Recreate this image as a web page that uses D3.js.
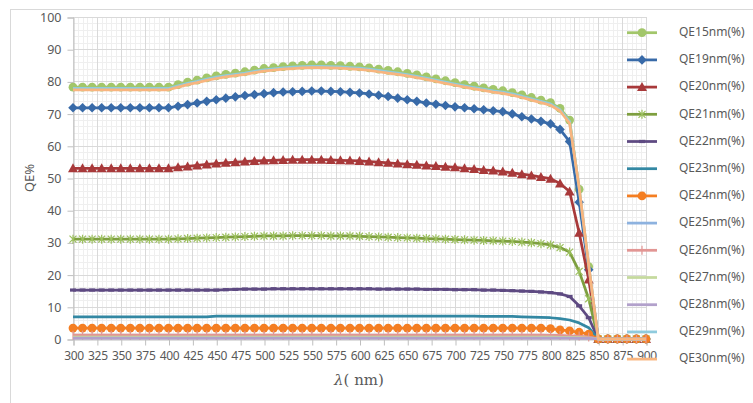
<!DOCTYPE html>
<html><head><meta charset="utf-8">
<script src="https://cdn.jsdelivr.net/npm/d3@7"></script>
<style>body{margin:0;background:#fff}svg{display:block}</style>
</head><body>
<svg id="c" width="753" height="403"></svg>
<script>
const wavelengths=[300,310,320,330,340,350,360,370,380,390,400,410,420,430,440,450,460,470,480,490,500,510,520,530,540,550,560,570,580,590,600,610,620,630,640,650,660,670,680,690,700,710,720,730,740,750,760,770,780,790,800,810,820,830,840,850,860,870,880,890,900];
const xTicks=[300,325,350,375,400,425,450,475,500,525,550,575,600,625,650,675,700,725,750,775,800,825,850,875,900];
const yTicks=[0,10,20,30,40,50,60,70,80,90,100];
const seriesNames=["QE15nm(%)","QE19nm(%)","QE20nm(%)","QE21nm(%)","QE22nm(%)","QE23nm(%)","QE24nm(%)","QE25nm(%)","QE26nm(%)","QE27nm(%)","QE28nm(%)","QE29nm(%)","QE30nm(%)"];
const qe15=[78.2,78.2,78.2,78.2,78.2,78.2,78.2,78.2,78.2,78.2,78.2,
79.0,79.8,80.4,81.1,81.7,82.2,82.6,83.0,83.5,84.0,
84.3,84.6,84.8,85.0,85.1,85.1,85.0,84.9,84.7,84.5,
84.2,83.8,83.4,83.0,82.5,82.0,81.4,80.8,80.2,79.6,
79.0,78.5,78.0,77.5,77.1,76.5,75.8,75.0,74.2,73.4,
71.6,68.0,46.5,22.5,0,0,0,0,0,0];
const qe19=[71.8,71.8,71.8,71.8,71.8,71.8,71.8,71.8,71.8,71.8,71.8,
72.3,72.8,73.3,73.8,74.3,74.8,75.2,75.6,75.9,76.2,
76.5,76.7,76.8,76.9,77.0,77.0,76.9,76.8,76.6,76.4,
76.1,75.7,75.3,74.8,74.3,73.8,73.3,72.9,72.5,72.1,
71.8,71.5,71.2,70.9,70.6,69.9,69.0,68.3,67.6,66.8,
65.1,61.3,42.5,21.5,0,0,0,0,0,0];
const qe20=[53.0,53.0,53.0,53.0,53.0,53.0,53.0,53.0,53.0,53.0,53.0,
53.3,53.6,53.9,54.2,54.5,54.7,54.9,55.1,55.3,55.4,
55.5,55.6,55.7,55.7,55.7,55.7,55.6,55.5,55.4,55.3,
55.1,54.9,54.7,54.5,54.3,54.1,53.9,53.7,53.5,53.3,
53.0,52.8,52.5,52.3,52.0,51.6,51.2,50.8,50.3,49.8,
48.3,45.8,33.0,18.5,0,0,0,0,0,0];
const qe21=[31.0,31.0,31.0,31.0,31.0,31.0,31.0,31.0,31.0,31.0,31.0,
31.1,31.2,31.3,31.4,31.5,31.6,31.7,31.8,31.9,32.0,
32.0,32.0,32.1,32.1,32.1,32.1,32.0,32.0,32.0,31.9,
31.8,31.7,31.6,31.5,31.4,31.3,31.2,31.1,31.0,30.9,
30.8,30.7,30.6,30.5,30.4,30.3,30.1,29.9,29.6,29.2,
28.4,27.0,21.0,12.5,0,0,0,0,0,0];
const qe22=[15.2,15.2,15.2,15.2,15.2,15.2,15.2,15.2,15.2,15.2,15.2,
15.2,15.2,15.2,15.2,15.2,15.3,15.4,15.5,15.5,15.5,
15.6,15.6,15.6,15.6,15.6,15.6,15.6,15.6,15.6,15.6,
15.6,15.5,15.5,15.5,15.5,15.5,15.4,15.4,15.4,15.3,
15.3,15.3,15.2,15.2,15.1,15.0,14.9,14.8,14.6,14.4,
14.0,13.2,10.3,6.6,0,0,0,0,0,0];
const qe23=[6.9,6.9,6.9,6.9,6.9,6.9,6.9,6.9,6.9,6.9,6.9,
6.9,6.9,6.9,6.9,7.1,7.1,7.1,7.1,7.1,7.1,
7.1,7.1,7.1,7.1,7.1,7.1,7.1,7.1,7.1,7.1,
7.1,7.1,7.1,7.1,7.1,7.1,7.1,7.1,7.1,7.1,
7.1,7.1,7.0,7.0,7.0,7.0,6.9,6.8,6.7,6.6,
6.3,5.9,5.0,3.5,0,0,0,0,0,0];
const qe24=[3.4,3.4,3.4,3.4,3.4,3.4,3.4,3.4,3.4,3.4,3.4,
3.4,3.4,3.4,3.4,3.4,3.4,3.4,3.4,3.4,3.4,
3.4,3.4,3.4,3.4,3.4,3.4,3.4,3.4,3.4,3.4,
3.4,3.4,3.4,3.4,3.4,3.4,3.4,3.4,3.4,3.4,
3.4,3.4,3.4,3.4,3.4,3.4,3.4,3.4,3.4,3.2,
2.8,2.5,2.1,1.5,0,0,0,0,0,0];
const qe25=[0.9,0.9,0.9,0.9,0.9,0.9,0.9,0.9,0.9,0.9,0.9,
0.9,0.9,0.9,0.9,0.9,0.9,0.9,0.9,0.9,0.9,
0.9,0.9,0.9,0.9,0.9,0.9,0.9,0.9,0.9,0.9,
0.9,0.9,0.9,0.9,0.9,0.9,0.9,0.9,0.9,0.9,
0.9,0.9,0.9,0.9,0.9,0.9,0.9,0.9,0.9,0.9,
0.8,0.8,0.7,0.5,0,0,0,0,0,0];
const qe26=[1.2,1.2,1.2,1.2,1.2,1.2,1.2,1.2,1.2,1.2,1.2,
1.2,1.2,1.2,1.2,1.2,1.2,1.2,1.2,1.2,1.2,
1.2,1.2,1.2,1.2,1.2,1.2,1.2,1.2,1.2,1.2,
1.2,1.2,1.2,1.2,1.2,1.2,1.2,1.2,1.2,1.2,
1.2,1.2,1.2,1.2,1.2,1.2,1.2,1.2,1.2,1.1,
1.1,1.0,0.9,0.6,0,0,0,0,0,0];
const qe27=[0.6,0.6,0.6,0.6,0.6,0.6,0.6,0.6,0.6,0.6,0.6,
0.6,0.6,0.6,0.6,0.6,0.6,0.6,0.6,0.6,0.6,
0.6,0.6,0.6,0.6,0.6,0.6,0.6,0.6,0.6,0.6,
0.6,0.6,0.6,0.6,0.6,0.6,0.6,0.6,0.6,0.6,
0.6,0.6,0.6,0.6,0.6,0.6,0.6,0.6,0.6,0.6,
0.5,0.5,0.4,0.3,0,0,0,0,0,0];
const qe28=[0.3,0.3,0.3,0.3,0.3,0.3,0.3,0.3,0.3,0.3,0.3,
0.3,0.3,0.3,0.3,0.3,0.3,0.3,0.3,0.3,0.3,
0.3,0.3,0.3,0.3,0.3,0.3,0.3,0.3,0.3,0.3,
0.3,0.3,0.3,0.3,0.3,0.3,0.3,0.3,0.3,0.3,
0.3,0.3,0.3,0.3,0.3,0.3,0.3,0.3,0.3,0.3,
0.3,0.3,0.2,0.2,0,0,0,0,0,0];
const qe29=[77.8,77.8,77.8,77.8,77.8,77.8,77.8,77.8,77.8,77.8,77.8,
78.6,79.4,80.0,80.7,81.3,81.8,82.2,82.6,83.1,83.6,
83.9,84.2,84.4,84.6,84.7,84.7,84.6,84.5,84.3,84.1,
83.8,83.4,83.0,82.6,82.1,81.6,81.0,80.4,79.8,79.2,
78.6,78.1,77.6,77.1,76.7,76.1,75.4,74.6,73.8,73.0,
71.2,67.5,46.8,22.8,0,0,0,0,0,0];
const qe30=[77.4,77.4,77.4,77.4,77.4,77.4,77.4,77.4,77.4,77.4,77.4,
78.2,79.0,79.6,80.3,80.9,81.4,81.8,82.2,82.7,83.2,
83.5,83.8,84.0,84.2,84.3,84.3,84.2,84.1,83.9,83.7,
83.4,83.0,82.6,82.2,81.7,81.2,80.6,80.0,79.4,78.8,
78.2,77.7,77.2,76.7,76.3,75.7,75.0,74.2,73.4,72.6,
70.8,67.0,47.0,23.0,0,0,0,0,0,0];

const seriesValues=[qe15,qe19,qe20,qe21,qe22,qe23,qe24,qe25,qe26,qe27,qe28,qe29,qe30];
const styles=[
 {c:"#A2C66A",m:"circle"},
 {c:"#386AA8",m:"diamond"},
 {c:"#A8393A",m:"triangle"},
 {c:"#7E9F3F",m:"asterisk",mc:"#9CC05E"},
 {c:"#5E4A82",m:"dash"},
 {c:"#3388A3",m:"none"},
 {c:"#F47E22",m:"circle"},
 {c:"#8DB2DF",m:"none"},
 {c:"#E29694",m:"plus"},
 {c:"#C5DA9E",m:"none"},
 {c:"#B2A1CB",m:"none"},
 {c:"#8FCBDD",m:"none"},
 {c:"#F8B57F",m:"none"}
];

const svg=d3.select("#c");
const font="'Noto Sans', 'Open Sans', sans-serif";
const x=d3.scaleLinear().domain([300,900]).range([73,646]);
const y=d3.scaleLinear().domain([0,100]).range([339,17]);

// chart border
svg.append("rect").attr("x",10.5).attr("y",9.5).attr("width",800).attr("height",420)
  .attr("fill","none").attr("stroke","#D9D9D9");

// minor gridlines
const g=svg.append("g");
const minorX=d3.range(300,901,5), minorY=d3.range(0,101,2);
g.selectAll(".mx").data(minorX).join("line")
 .attr("x1",d=>Math.round(x(d))+0.5).attr("x2",d=>Math.round(x(d))+0.5)
 .attr("y1",y(100)).attr("y2",y(0)).attr("stroke","#EFEFEF");
g.selectAll(".my").data(minorY).join("line")
 .attr("y1",d=>Math.round(y(d))+0.5).attr("y2",d=>Math.round(y(d))+0.5)
 .attr("x1",x(300)).attr("x2",x(900)).attr("stroke","#EFEFEF");
// major gridlines
g.selectAll(".Mx").data(xTicks).join("line")
 .attr("x1",d=>Math.round(x(d))+0.5).attr("x2",d=>Math.round(x(d))+0.5)
 .attr("y1",y(100)).attr("y2",y(0)).attr("stroke","#D9D9D9");
g.selectAll(".My").data(yTicks).join("line")
 .attr("y1",d=>Math.round(y(d))+0.5).attr("y2",d=>Math.round(y(d))+0.5)
 .attr("x1",x(300)).attr("x2",x(900)).attr("stroke","#D9D9D9");

// axes
const yAxis=d3.axisLeft(y).tickValues(yTicks).tickSize(6).tickPadding(6);
const ya=svg.append("g").attr("transform",`translate(${Math.round(x(300))+0.5},0.5)`).call(yAxis);
ya.select(".domain").attr("stroke","#BFBFBF");
ya.selectAll(".tick line").attr("stroke","#BFBFBF");
ya.selectAll("text").attr("fill","#595959").style("font-family",font).style("font-size","12.5px");

const xAxis=d3.axisBottom(x).tickValues(xTicks).tickSize(6).tickPadding(6);
const xa=svg.append("g").attr("transform",`translate(0.5,${Math.round(y(0))+0.5})`).call(xAxis);
xa.select(".domain").attr("stroke","#BFBFBF");
xa.selectAll(".tick line").attr("stroke","#BFBFBF");
xa.selectAll("text").attr("fill","#595959").style("font-family",font).style("font-size","12px").style("letter-spacing","-0.3px");

// axis titles
svg.append("text").attr("transform","translate(31,178) rotate(-90)").attr("text-anchor","middle")
 .attr("dominant-baseline","middle").attr("fill","#595959").style("font-family",font).style("font-size","13px").text("QE%");
const xt=svg.append("text").attr("x",359).attr("y",385).attr("text-anchor","middle")
 .attr("fill","#595959").style("font-family","'DejaVu Serif','Liberation Serif',serif").style("font-size","15px");
xt.append("tspan").style("font-style","italic").text("λ");
xt.append("tspan").text("( nm)");

// markers
function drawMarker(sel,type,color,mc){
  const col=mc||color;
  if(type==="circle") sel.append("circle").attr("r",4.4).attr("fill",col);
  else if(type==="diamond") sel.append("path").attr("d","M0,-4.8L4.8,0L0,4.8L-4.8,0Z").attr("fill",col);
  else if(type==="triangle") sel.append("path").attr("d","M0,-5L5,4L-5,4Z").attr("fill",col);
  else if(type==="asterisk") sel.append("path").attr("d","M-3.5,-3.5L3.5,3.5M-3.5,3.5L3.5,-3.5M0,-4.5L0,4.5").attr("stroke",col).attr("stroke-width",1.2).attr("fill","none");
  else if(type==="dash") sel.append("rect").attr("x",-3).attr("y",-1.6).attr("width",6).attr("height",3.2).attr("fill",col);
  else if(type==="plus") sel.append("path").attr("d","M0,-4.5L0,4.5").attr("stroke",col).attr("stroke-width",1.2);
}

const line=d3.line().x((d,i)=>x(wavelengths[i])).y(d=>y(d));
const plot=svg.append("g");
seriesValues.forEach((vals,si)=>{
  const s=styles[si];
  const gs=plot.append("g");
  gs.append("path").datum(vals).attr("d",line).attr("fill","none").attr("stroke",s.c)
    .attr("stroke-width",2.75).attr("stroke-linejoin","round");
  if(s.m!=="none"){
    gs.selectAll("g.m").data(vals).join("g").attr("class","m")
      .attr("transform",(d,i)=>`translate(${x(wavelengths[i])},${y(d)})`)
      .each(function(){drawMarker(d3.select(this),s.m,s.c,s.mc);});
  }
});

// legend
const ly=d3.scaleLinear().domain([0,12]).range([32.7,359.1]);
const lg=svg.append("g");
seriesNames.forEach((n,i)=>{
  const s=styles[i];
  const row=lg.append("g").attr("transform",`translate(0,${ly(i)})`);
  row.append("line").attr("x1",627).attr("x2",657).attr("stroke",s.c).attr("stroke-width",2.75);
  if(s.m!=="none") drawMarker(row.append("g").attr("transform","translate(642,0)"),s.m,s.c,s.mc);
  row.append("text").attr("x",679).attr("dominant-baseline","middle").attr("fill","#595959")
    .style("font-family",font).style("font-size","12px").text(n);
});
</script>
</body></html>
